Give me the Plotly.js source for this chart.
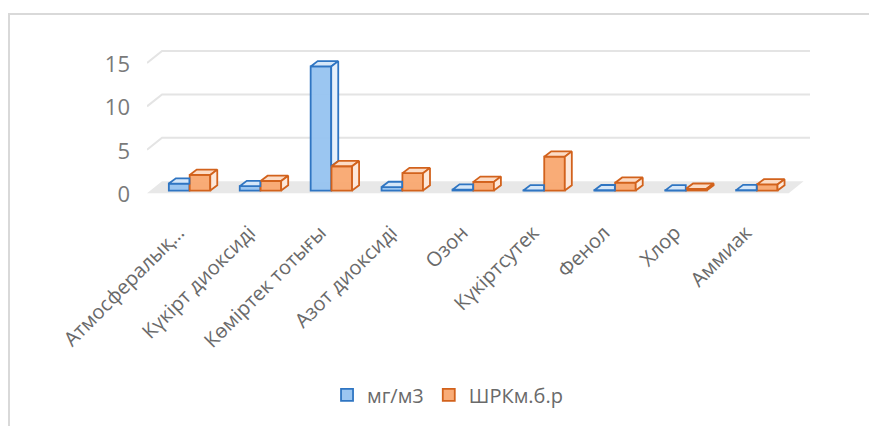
<!DOCTYPE html>
<html>
<head>
<meta charset="utf-8">
<script src="https://cdn.plot.ly/plotly-3.0.1.min.js"></script>
<style>
  html, body { margin: 0; padding: 0; background: #fff; overflow: hidden; }
  #wrap { position: relative; width: 869px; height: 426px; overflow: hidden; }
  #chart { position: absolute; left: 0; top: 0; width: 869px; height: 426px; }
  #frame { position: absolute; left: 8px; top: 13px; width: 900px; height: 500px;
           border: 2px solid #d9d9d9; box-sizing: border-box; pointer-events: none; }
</style>
</head>
<body>
<div id="wrap">
  <div id="chart"></div>
  <div id="frame"></div>
</div>
<script>
// ---- data ----
const categories = ["Атмосфералық…", "Күкірт диоксиді", "Көміртек тотығы", "Азот диоксиді",
                    "Озон", "Күкіртсутек", "Фенол", "Хлор", "Аммиак"];
const seriesNames = ["мг/м3", "ШРКм.б.р"];
const mgValues   = [0.8, 0.5, 14.3, 0.4, 0.1, 0.01, 0.03, 0.02, 0.05];
const shrkValues = [1.8, 1.1, 2.8, 2.0, 1.0, 3.9, 0.9, 0.2, 0.7];
const yTickValues = [0, 5, 10, 15];

// ---- style / pseudo-3D geometry (in axis units) ----
const OFF = 0.147, W = 0.29, DX = 0.099, DY = 0.61;
const blue = { edge: "#2f75c2", front: "rgba(150,195,240,0.95)", top: "#d6e7f8", side: "#e6f0fb" };
const orng = { edge: "#d2621c", front: "rgba(249,168,112,0.95)", top: "#fcdcc6", side: "#fde8da" };

const xs = categories.map((c, i) => i);

function polyTrace(xArr, yArr, col, fillCol) {
  return { type: "scatter", mode: "lines", x: xArr, y: yArr, fill: "toself",
           fillcolor: fillCol, line: { color: col, width: 1.8 }, hoverinfo: "skip",
           showlegend: false, connectgaps: false };
}

// top faces and visible parts of side faces
const bTopX = [], bTopY = [], bSideX = [], bSideY = [];
const oTopX = [], oTopY = [], oSideX = [], oSideY = [];
xs.forEach((i) => {
  const vb = mgValues[i], vo = shrkValues[i];
  const bx0 = i - OFF - W / 2, bx1 = i - OFF + W / 2;
  const ox0 = i + OFF - W / 2, ox1 = i + OFF + W / 2;
  if (vb > vo) {
    bTopX.push(bx0, bx0 + DX, bx1 + DX, bx1, bx0, null);
    bTopY.push(vb, vb + DY, vb + DY, vb, vb, null);
    bSideX.push(bx1, bx1 + DX, bx1 + DX, bx1, bx1, null);
    bSideY.push(vo, vo + DY, vb + DY, vb, vo, null);
  } else {
    bTopX.push(bx0, bx0 + DX, bx1, bx1, bx0, null);
    bTopY.push(vb, vb + DY, vb + DY, vb, vb, null);
  }
  oTopX.push(ox0, ox0 + DX, ox1 + DX, ox1, ox0, null);
  oTopY.push(vo, vo + DY, vo + DY, vo, vo, null);
  oSideX.push(ox1, ox1 + DX, ox1 + DX, ox1, ox1, null);
  oSideY.push(0, DY, vo + DY, vo, 0, null);
});

const data = [
  { type: "bar", name: seriesNames[0], x: xs.map(i => i - OFF), y: mgValues, width: W,
    marker: { color: blue.front, line: { color: blue.edge, width: 1.8 } }, hoverinfo: "y" },
  { type: "bar", name: seriesNames[1], x: xs.map(i => i + OFF), y: shrkValues, width: W,
    marker: { color: orng.front, line: { color: orng.edge, width: 1.8 } }, hoverinfo: "y" },
  polyTrace(bTopX, bTopY, blue.edge, blue.top),
  polyTrace(bSideX, bSideY, blue.edge, blue.side),
  polyTrace(oTopX, oTopY, orng.edge, orng.top),
  polyTrace(oSideX, oSideY, orng.edge, orng.side)
];

// floor and back-wall gridlines (decoration)
const FX = 0.212, FY = 1.38, F0 = -0.3;
const shapes = [{
  type: "path", xref: "x", yref: "y", layer: "below",
  path: `M -0.6,${F0} L ${-0.6 + FX},${F0 + FY} L 8.66,${F0 + FY} L 8.45,${F0} Z`,
  fillcolor: "#e8e8e8", line: { width: 0 }
}];
yTickValues.filter(v => v > 0).forEach(v => {
  shapes.push({
    type: "path", xref: "x", yref: "y", layer: "below",
    path: `M -0.6,${v + F0} L ${-0.6 + FX},${v + F0 + FY} L 8.75,${v + F0 + FY}`,
    line: { color: "#e4e4e4", width: 2 }
  });
});

const layout = {
  width: 869, height: 426,
  margin: { l: 147, r: 59, t: 30, b: 232, pad: 0 },
  paper_bgcolor: "#ffffff", plot_bgcolor: "rgba(0,0,0,0)",
  font: { family: "'Open Sans', 'Noto Sans', sans-serif", color: "#6a6a6a" },
  showlegend: true,
  barmode: "overlay",
  xaxis: {
    range: [-0.6, 8.75], tickmode: "array", tickvals: xs, ticktext: categories,
    tickangle: -45, showgrid: false, zeroline: false, showline: false, ticks: "",
    ticklabelstandoff: 22, ticklabelshift: -11,
    tickfont: { size: 20, color: "#6a6a6a" }, fixedrange: true
  },
  yaxis: {
    range: [-0.4, 18.5], tickmode: "array", tickvals: yTickValues,
    showgrid: false, zeroline: false, showline: false, ticks: "",
    ticklabelstandoff: 16, ticklabelshift: 4,
    tickfont: { size: 22, color: "#7a7a7a" }, fixedrange: true
  },
  legend: {
    orientation: "h", xref: "container", yref: "container",
    x: 0.515, xanchor: "center", y: 0.073, yanchor: "middle",
    font: { size: 20, color: "#6a6a6a" }, traceorder: "normal"
  },
  shapes: shapes
};

Plotly.newPlot("chart", data, layout, { displayModeBar: false, staticPlot: true });
</script>
</body>
</html>
